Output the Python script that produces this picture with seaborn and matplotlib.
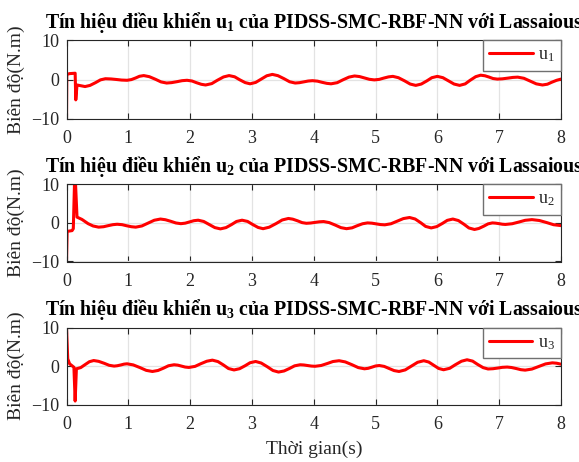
import numpy as np
import pandas as pd
import matplotlib
matplotlib.use('Agg')
import matplotlib.pyplot as plt
import seaborn as sns

# --- data (time in s, amplitude in N.m) ---
t_u1 = [0.0, 0.005, 0.05, 0.14, 0.15, 0.17, 0.30,
        0.38, 0.47, 0.55, 0.63, 0.72, 0.81, 0.89, 0.98, 1.05, 1.12, 1.18, 1.25,
        1.34, 1.44, 1.53, 1.62, 1.70, 1.79, 1.87, 1.95, 2.03, 2.10, 2.18, 2.25,
        2.35, 2.44, 2.54, 2.63, 2.72, 2.80, 2.89, 2.97, 3.06, 3.15, 3.24, 3.33,
        3.42, 3.52, 3.61, 3.70, 3.77, 3.84, 3.91, 3.98, 4.06, 4.13, 4.21, 4.28,
        4.38, 4.47, 4.57, 4.66, 4.74, 4.82, 4.90, 4.98, 5.06, 5.13, 5.21, 5.28,
        5.37, 5.47, 5.56, 5.65, 5.74, 5.83, 5.91, 6.00, 6.09, 6.18, 6.27, 6.36,
        6.45, 6.53, 6.62, 6.70, 6.77, 6.84, 6.90, 6.97, 7.05, 7.14, 7.22, 7.30,
        7.40, 7.50, 7.60, 7.70, 7.78, 7.85, 7.93, 8.00]
u1 = [-10.0, 1.3, 1.5, 1.6, -5.2, -1.4, -1.8,
      -1.51, -0.80, -0.09, 0.20, 0.14, 0.00, -0.14, -0.20, -0.02, 0.40, 0.82, 1.00,
      0.72, 0.05, -0.62, -0.90, -0.80, -0.55, -0.30, -0.20, -0.38, -0.80, -1.22, -1.40,
      -1.05, -0.20, 0.65, 1.00, 0.69, -0.05, -0.79, -1.10, -0.75, 0.10, 0.95, 1.30,
      0.98, 0.20, -0.58, -0.90, -0.81, -0.60, -0.39, -0.30, -0.42, -0.70, -0.98, -1.10,
      -0.81, -0.10, 0.61, 0.90, 0.75, 0.40, 0.05, -0.10, 0.03, 0.35, 0.67, 0.80,
      0.46, -0.35, -1.16, -1.50, -1.16, -0.35, 0.46, 0.80, 0.46, -0.35, -1.16, -1.50,
      -1.12, -0.20, 0.72, 1.10, 0.95, 0.60, 0.25, 0.10, 0.17, 0.35, 0.53, 0.60,
      0.31, -0.40, -1.11, -1.40, -1.20, -0.70, -0.20, 0.10]

t_u2 = [0.0, 0.01, 0.09, 0.11, 0.13, 0.145, 0.17, 0.25, 0.35, 0.43,
        0.52, 0.60, 0.67, 0.75, 0.82, 0.90, 0.97, 1.05, 1.12, 1.22, 1.32, 1.42,
        1.52, 1.60, 1.69, 1.77, 1.85, 1.92, 1.99, 2.06, 2.13, 2.22, 2.31, 2.40,
        2.49, 2.58, 2.67, 2.75, 2.84, 2.93, 3.01, 3.10, 3.18, 3.28, 3.39, 3.49,
        3.59, 3.66, 3.74, 3.81, 3.88, 3.95, 4.02, 4.09, 4.16, 4.25, 4.35, 4.44,
        4.53, 4.62, 4.70, 4.79, 4.87, 4.94, 5.01, 5.08, 5.15, 5.25, 5.35, 5.45,
        5.55, 5.64, 5.73, 5.81, 5.90, 5.99, 6.08, 6.16, 6.25, 6.34, 6.43, 6.51,
        6.60, 6.67, 6.75, 6.82, 6.89, 6.94, 7.00, 7.05, 7.10, 7.21, 7.32, 7.42,
        7.53, 7.65, 7.77, 7.88, 8.00]
u2 = [-10.0, -2.2, -2.0, -1.5, 10.5, 10.5, 1.5, 0.9, -0.2, -0.8,
      -1.10, -0.99, -0.73, -0.46, -0.35, -0.46, -0.73, -0.99, -1.10, -0.79, -0.05, 0.69,
      1.00, 0.82, 0.40, -0.02, -0.20, -0.07, 0.25, 0.57, 0.70, 0.37, -0.43, -1.22,
      -1.55, -1.22, -0.43, 0.37, 0.70, 0.38, -0.40, -1.18, -1.50, -1.11, -0.18, 0.76,
      1.15, 0.97, 0.53, 0.08, -0.10, -0.03, 0.13, 0.28, 0.35, 0.08, -0.58, -1.23,
      -1.50, -1.28, -0.75, -0.22, 0.00, -0.07, -0.25, -0.43, -0.50, -0.22, 0.45, 1.12,
      1.40, 1.01, 0.05, -0.91, -1.30, -0.96, -0.15, 0.66, 1.00, 0.61, -0.35, -1.31,
      -1.70, -1.45, -0.85, -0.25, 0.00, -0.06, -0.20, -0.34, -0.40, -0.22, 0.23, 0.67,
      0.85, 0.62, 0.08, -0.47, -0.70]

t_u3 = [0.0, 0.02, 0.05, 0.12, 0.14, 0.16,
        0.23, 0.30, 0.37, 0.44, 0.52, 0.61, 0.69, 0.77, 0.82, 0.88, 0.93, 0.98,
        1.08, 1.19, 1.29, 1.39, 1.48, 1.57, 1.65, 1.74, 1.80, 1.86, 1.92, 1.98,
        2.08, 2.17, 2.27, 2.36, 2.45, 2.54, 2.62, 2.71, 2.80, 2.89, 2.97, 3.06,
        3.15, 3.25, 3.34, 3.43, 3.52, 3.61, 3.69, 3.78, 3.84, 3.90, 3.96, 4.02,
        4.12, 4.22, 4.31, 4.41, 4.51, 4.62, 4.72, 4.82, 4.88, 4.94, 5.00, 5.06,
        5.14, 5.22, 5.30, 5.38, 5.48, 5.58, 5.68, 5.78, 5.86, 5.94, 6.02, 6.10,
        6.20, 6.29, 6.39, 6.48, 6.57, 6.65, 6.74, 6.82, 6.90, 6.98, 7.05, 7.13,
        7.20, 7.28, 7.35, 7.42, 7.53, 7.64, 7.75, 7.86, 7.93, 8.00]
u3 = [10.0, 1.9, 0.6, -0.3, -9.1, -0.7,
      -0.39, 0.38, 1.14, 1.45, 1.24, 0.73, 0.21, 0.00, 0.09, 0.30, 0.51, 0.60,
      0.31, -0.40, -1.11, -1.40, -1.14, -0.53, 0.09, 0.35, 0.25, 0.00, -0.25, -0.35,
      -0.07, 0.60, 1.27, 1.55, 1.18, 0.28, -0.63, -1.00, -0.68, 0.10, 0.88, 1.20,
      0.80, -0.18, -1.15, -1.55, -1.27, -0.60, 0.07, 0.35, 0.29, 0.15, 0.01, -0.05,
      0.16, 0.68, 1.19, 1.40, 1.09, 0.35, -0.39, -0.70, -0.58, -0.28, 0.03, 0.15,
      -0.08, -0.63, -1.17, -1.40, -0.99, 0.00, 0.99, 1.40, 1.06, 0.23, -0.61, -0.95,
      -0.57, 0.35, 1.27, 1.65, 1.30, 0.45, -0.40, -0.75, -0.68, -0.50, -0.32, -0.25,
      -0.37, -0.65, -0.93, -1.05, -0.77, -0.10, 0.57, 0.85, 0.75, 0.50]

series = [(t_u1, u1, '1'), (t_u2, u2, '2'), (t_u3, u3, '3')]
x_ticks = [0, 1, 2, 3, 4, 5, 6, 7, 8]
y_ticks = [-10, 0, 10]

sns.set_theme(style='white')
plt.rcParams['font.family'] = ['Liberation Serif', 'DejaVu Serif']
plt.rcParams['mathtext.fontset'] = 'custom'
plt.rcParams['mathtext.rm'] = 'Liberation Serif'
plt.rcParams['mathtext.it'] = 'Liberation Serif:italic'
plt.rcParams['mathtext.bf'] = 'Liberation Serif:bold'

fig = plt.figure(figsize=(5.79, 4.62), dpi=100)
W, H = 579.0, 462.0
left, right = 66.5, 561.0
rows = [(40.3, 118.7), (184.3, 261.5), (327.7, 404.5)]

for (top, bot), (tt, uu, idx) in zip(rows, series):
    ax = fig.add_axes([left / W, 1 - bot / H, (right - left) / W, (bot - top) / H])
    df = pd.DataFrame({'t': tt, 'u': uu})
    sns.lineplot(data=df, x='t', y='u', ax=ax, color='#ff0000', linewidth=2.2,
                 label='u$_{' + idx + '}$', sort=False, estimator=None)
    ax.set_xlim(0, 8)
    ax.set_ylim(-10, 10)
    ax.set_xticks(x_ticks)
    ax.set_yticks(y_ticks)
    ax.grid(True, color='#e3e3e3', linewidth=0.9)
    ax.set_axisbelow(True)
    for sp in ax.spines.values():
        sp.set_color('#262626')
        sp.set_linewidth(0.8)
    ax.tick_params(direction='in', length=4, width=0.8, color='#262626',
                   top=True, right=True, bottom=True, left=True,
                   labelsize=13, labelcolor='#262626')
    ax.tick_params(axis='x', pad=8)
    ax.tick_params(axis='y', pad=5)
    ax.set_xlabel('')
    ax.set_ylabel('Biên độ(N.m)', fontsize=14, color='#262626')
    ax.yaxis.set_label_coords(-0.083, 0.5)
    ax.set_title('Tín hiệu điều khiển u$_{\\mathbf{' + idx + '}}$ của PIDSS-SMC-RBF-NN với Lassaious',
                 fontsize=14.3, fontweight='bold', pad=9, color='black')
    leg = ax.legend(loc='upper right', bbox_to_anchor=(1.0, 1.0), borderaxespad=0,
                    fontsize=13, frameon=True, fancybox=False, framealpha=1,
                    handlelength=2.4, handletextpad=0.3, borderpad=0.35)
    leg.get_frame().set_edgecolor('#707070')
    leg.get_frame().set_linewidth(1.0)

ax.set_xlabel('Thời gian(s)', fontsize=14, color='#262626', labelpad=6)

fig.savefig('out.png', dpi=100)
